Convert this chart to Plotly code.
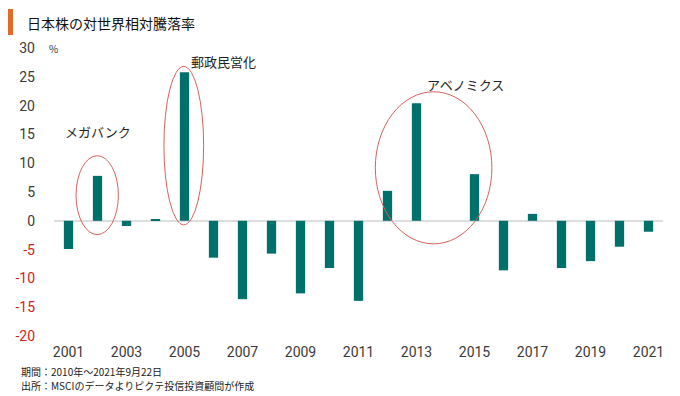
import plotly.graph_objects as go

years = list(range(2001, 2022))
values = [-4.9, 7.8, -0.9, 0.2, 25.8, -6.4, -13.6, -5.7, -12.6, -8.2, -13.9,
          5.2, 20.4, 0.0, 8.1, -8.6, 1.2, -8.2, -7.0, -4.5, -1.9]
y_ticks = [30, 25, 20, 15, 10, 5, 0, -5, -10, -15, -20]
x_ticks = [2001, 2003, 2005, 2007, 2009, 2011, 2013, 2015, 2017, 2019, 2021]
title = "日本株の対世界相対騰落率"
notes = ["期間：2010年～2021年9月22日", "出所：MSCIのデータよりピクテ投信投資顧問が作成"]
labels = ["メガバンク", "郵政民営化", "アベノミクス"]

BAR = "#00706a"
RED = "#d9605c"
JP = "Noto Sans CJK JP"

# page is drawn with an 8px body offset; window pixel -> paper helpers
OFF = 8
ML, MT, PW, PH = 46, 40, 609, 288
def px(wx):
    return (wx - OFF - ML) / PW
def py(wy):
    return (MT + PH - (wy - OFF)) / PH

def ytxt(v):
    if v < 0:
        return f"<span style='color:#d42020'>-{abs(v)}</span>"
    return str(v)

fig = go.Figure()
fig.add_trace(go.Bar(x=years, y=values, width=0.32, marker=dict(color=BAR, line=dict(width=0)),
                     showlegend=False))

fig.update_layout(
    width=672, height=388,
    margin=dict(l=ML, r=672 - ML - PW, t=MT, b=388 - MT - PH, autoexpand=False),
    paper_bgcolor="white", plot_bgcolor="white",
    font=dict(family="Roboto", size=14, color="#333333"),
    xaxis=dict(range=[2000.5, 2021.5], tickvals=x_ticks, ticktext=[str(t) for t in x_ticks],
               showgrid=False, zeroline=False, showline=False, ticks="", automargin=False,
               ticklabelstandoff=6,
               tickfont=dict(family="Roboto", size=14, color="#3a3a3a")),
    yaxis=dict(range=[-20, 30], tickvals=y_ticks, ticktext=[ytxt(v) for v in y_ticks],
               showgrid=False, zeroline=True, zerolinecolor="#dddddd", zerolinewidth=2,
               showline=False, ticks="", ticklabelstandoff=18, automargin=False,
               tickfont=dict(family="Roboto", size=14, color="#3a3a3a")),
)

# title with orange marker
fig.add_shape(type="rect", xref="paper", yref="paper",
              x0=px(6), x1=px(13), y0=py(35), y1=py(9),
              fillcolor="#e06a26", line=dict(width=0))
fig.add_annotation(text=title, xref="paper", yref="paper", x=px(25), y=py(23),
                   xanchor="left", yanchor="middle", showarrow=False,
                   font=dict(family=JP, size=14, color="#111111"))
fig.add_annotation(text="%", xref="paper", yref="y", x=px(47), y=30,
                   xanchor="left", yanchor="middle", showarrow=False,
                   font=dict(family=JP, size=10, color="#333333"))

# footnotes
for note, wy in zip(notes, [371, 385]):
    fig.add_annotation(text=note, xref="paper", yref="paper", x=px(19), y=py(wy),
                       xanchor="left", yanchor="middle", align="left", showarrow=False,
                       font=dict(family=JP, size=10, color="#222222"))

# callout labels
fig.add_annotation(text=labels[0], x=2002.0, y=15.5, showarrow=False,
                   font=dict(family=JP, size=13, color="#222222"))
fig.add_annotation(text=labels[1], x=2006.35, y=27.6, showarrow=False,
                   font=dict(family=JP, size=13, color="#222222"))
fig.add_annotation(text=labels[2], x=2014.7, y=23.6, showarrow=False,
                   font=dict(family=JP, size=13, color="#222222"))

# ellipses
for (x0, x1, y0, y1) in [(2001.26, 2002.72, -2.4, 11.3),
                         (2004.29, 2005.66, -0.7, 26.8),
                         (2011.58, 2015.6, -4.0, 22.4)]:
    fig.add_shape(type="circle", x0=x0, x1=x1, y0=y0, y1=y1,
                  line=dict(color=RED, width=1), fillcolor="rgba(0,0,0,0)")

fig.write_html("out.html")
